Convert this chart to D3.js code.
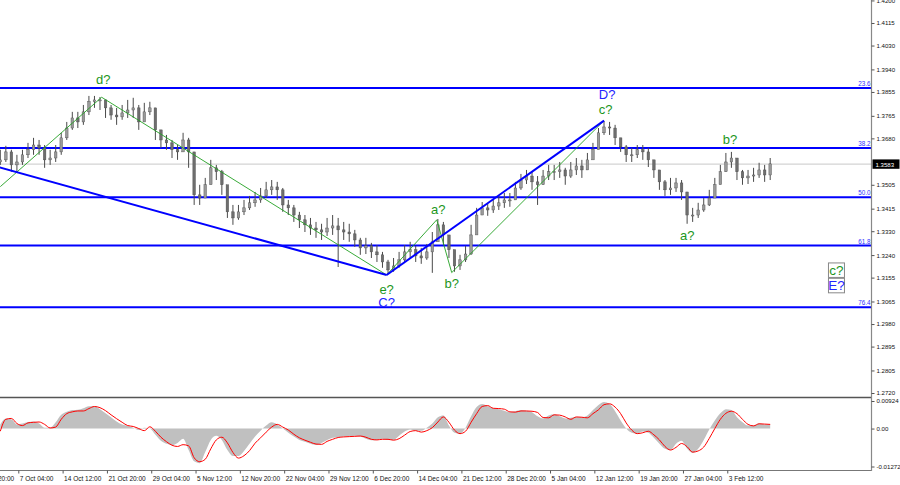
<!DOCTYPE html>
<html><head><meta charset="utf-8">
<script src="https://cdn.jsdelivr.net/npm/d3@7"></script>
<style>
html,body{margin:0;padding:0;background:#fff;overflow:hidden}
svg{display:block}
text{font-family:"Liberation Sans",Arial,sans-serif}
</style></head><body>
<svg id="c" width="900" height="485"></svg>
<script>
// ---- price data (4 x H4 bars aggregated per candle) ----
const firstOpen = 1.3591;
const closes = [1.3599,1.3629,1.3580,1.3591,1.3618,1.3637,1.3655,1.3644,1.3599,1.3606,
1.3629,1.3682,1.3719,1.3757,1.3742,1.3780,1.3818,1.3825,1.3825,1.3795,
1.3768,1.3761,1.3776,1.3787,1.3795,1.3742,1.3780,1.3795,1.3712,1.3674,
1.3663,1.3637,1.3629,1.3674,1.3629,1.3467,1.3455,1.3505,1.3569,1.3554,
1.3505,1.3403,1.3380,1.3403,1.3418,1.3437,1.3448,1.3463,1.3486,1.3497,
1.3486,1.3429,1.3418,1.3391,1.3373,1.3354,1.3342,1.3335,1.3327,1.3342,
1.3350,1.3335,1.3327,1.3320,1.3297,1.3267,1.3275,1.3252,1.3241,1.3214,
1.3184,1.3199,1.3222,1.3252,1.3260,1.3237,1.3229,1.3252,1.3290,1.3354,
1.3316,1.3260,1.3199,1.3222,1.3244,1.3316,1.3391,1.3418,1.3410,1.3425,
1.3437,1.3448,1.3448,1.3493,1.3523,1.3538,1.3516,1.3505,1.3538,1.3554,
1.3554,1.3561,1.3538,1.3561,1.3576,1.3561,1.3599,1.3637,1.3701,1.3723,
1.3719,1.3682,1.3648,1.3618,1.3618,1.3637,1.3629,1.3599,1.3561,1.3516,
1.3486,1.3493,1.3512,1.3478,1.3391,1.3391,1.3410,1.3429,1.3455,1.3505,
1.3554,1.3591,1.3606,1.3554,1.3531,1.3538,1.3542,1.3561,1.3542,1.3584];
const highs = [1.3637,1.3652,1.3637,1.3618,1.3637,1.3663,1.3682,1.3674,1.3655,1.3637,
1.3655,1.3701,1.3742,1.3780,1.3780,1.3806,1.3840,1.3840,1.3836,1.3825,
1.3806,1.3795,1.3806,1.3825,1.3833,1.3806,1.3814,1.3818,1.3795,1.3712,
1.3693,1.3674,1.3655,1.3701,1.3682,1.3599,1.3505,1.3531,1.3599,1.3580,
1.3561,1.3486,1.3429,1.3429,1.3448,1.3463,1.3478,1.3493,1.3516,1.3523,
1.3516,1.3493,1.3448,1.3429,1.3403,1.3391,1.3380,1.3365,1.3358,1.3380,
1.3391,1.3380,1.3365,1.3358,1.3335,1.3305,1.3305,1.3286,1.3278,1.3252,
1.3222,1.3229,1.3252,1.3278,1.3290,1.3275,1.3267,1.3282,1.3327,1.3376,
1.3365,1.3305,1.3260,1.3241,1.3275,1.3354,1.3418,1.3440,1.3437,1.3448,
1.3463,1.3474,1.3474,1.3516,1.3546,1.3561,1.3554,1.3538,1.3561,1.3580,
1.3580,1.3591,1.3569,1.3591,1.3606,1.3599,1.3625,1.3663,1.3719,1.3746,
1.3742,1.3731,1.3682,1.3655,1.3644,1.3655,1.3655,1.3644,1.3599,1.3554,
1.3523,1.3531,1.3531,1.3523,1.3467,1.3418,1.3437,1.3455,1.3486,1.3531,
1.3580,1.3625,1.3629,1.3599,1.3561,1.3561,1.3569,1.3588,1.3580,1.3606];
const lows = [1.3580,1.3591,1.3554,1.3554,1.3580,1.3606,1.3618,1.3618,1.3569,1.3580,
1.3591,1.3618,1.3674,1.3712,1.3719,1.3731,1.3768,1.3795,1.3787,1.3757,
1.3750,1.3731,1.3750,1.3757,1.3757,1.3712,1.3750,1.3768,1.3674,1.3644,
1.3637,1.3606,1.3599,1.3637,1.3569,1.3429,1.3429,1.3467,1.3523,1.3523,
1.3467,1.3380,1.3354,1.3373,1.3391,1.3410,1.3422,1.3437,1.3455,1.3467,
1.3448,1.3403,1.3391,1.3365,1.3342,1.3327,1.3316,1.3305,1.3297,1.3312,
1.3316,1.3195,1.3297,1.3290,1.3271,1.3241,1.3244,1.3229,1.3214,1.3192,
1.3169,1.3177,1.3192,1.3214,1.3229,1.3214,1.3207,1.3222,1.3173,1.3297,
1.3278,1.3229,1.3177,1.3184,1.3214,1.3241,1.3335,1.3391,1.3388,1.3399,
1.3410,1.3418,1.3422,1.3448,1.3486,1.3508,1.3486,1.3429,1.3505,1.3523,
1.3523,1.3531,1.3505,1.3531,1.3542,1.3531,1.3561,1.3606,1.3655,1.3693,
1.3693,1.3655,1.3629,1.3591,1.3591,1.3606,1.3599,1.3572,1.3531,1.3486,
1.3463,1.3467,1.3478,1.3448,1.3358,1.3365,1.3380,1.3403,1.3425,1.3467,
1.3516,1.3554,1.3569,1.3523,1.3505,1.3508,1.3516,1.3531,1.3516,1.3523];

// ---- MACD ----
const macdHist = [0.0014,0.0034,0.0031,0.0014,0.0017,0.0022,0.0024,0.0017,0.0003,0.0003,
0.0021,0.0046,0.0056,0.0062,0.0063,0.0068,0.0075,0.0075,0.0065,0.0051,
0.0038,0.0024,0.0014,0.0009,0.0003,-0.0005,0.0003,0.0000,-0.0021,-0.0041,
-0.0051,-0.0055,-0.0048,-0.0034,-0.0072,-0.0110,-0.0116,-0.0079,-0.0038,-0.0024,
-0.0038,-0.0072,-0.0092,-0.0092,-0.0075,-0.0051,-0.0027,-0.0007,0.0010,0.0021,
0.0014,0.0000,-0.0014,-0.0027,-0.0038,-0.0044,-0.0051,-0.0055,-0.0048,-0.0038,
-0.0031,-0.0029,-0.0027,-0.0026,-0.0024,-0.0027,-0.0034,-0.0039,-0.0038,-0.0034,
-0.0038,-0.0038,-0.0024,-0.0010,-0.0003,-0.0007,-0.0007,0.0003,0.0017,0.0038,
0.0044,0.0010,-0.0014,-0.0017,0.0003,0.0041,0.0072,0.0082,0.0075,0.0068,
0.0065,0.0060,0.0055,0.0058,0.0062,0.0060,0.0055,0.0041,0.0034,0.0044,
0.0048,0.0041,0.0034,0.0036,0.0039,0.0038,0.0044,0.0062,0.0079,0.0089,
0.0082,0.0058,0.0027,0.0000,-0.0014,-0.0017,-0.0010,-0.0014,-0.0031,-0.0051,
-0.0068,-0.0072,-0.0051,-0.0041,-0.0068,-0.0082,-0.0068,-0.0038,-0.0003,0.0027,
0.0051,0.0065,0.0062,0.0038,0.0021,0.0010,0.0010,0.0017,0.0014,0.0014];
const macdSignal = [-0.0009,0.0031,0.0034,0.0017,0.0010,0.0019,0.0021,0.0022,0.0014,0.0002,
0.0005,0.0031,0.0050,0.0056,0.0059,0.0059,0.0067,0.0074,0.0070,0.0060,
0.0046,0.0033,0.0021,0.0010,0.0007,0.0000,-0.0007,0.0006,-0.0009,-0.0029,
-0.0044,-0.0056,-0.0060,-0.0054,-0.0058,-0.0098,-0.0111,-0.0103,-0.0068,-0.0038,
-0.0029,-0.0048,-0.0080,-0.0099,-0.0091,-0.0074,-0.0049,-0.0031,-0.0012,0.0005,
0.0014,0.0005,-0.0005,-0.0019,-0.0031,-0.0039,-0.0046,-0.0052,-0.0053,-0.0043,
-0.0036,-0.0030,-0.0028,-0.0027,-0.0026,-0.0025,-0.0029,-0.0036,-0.0038,-0.0036,
-0.0036,-0.0039,-0.0034,-0.0022,-0.0010,-0.0007,-0.0012,-0.0007,0.0003,0.0022,
0.0039,0.0021,-0.0005,-0.0017,-0.0009,0.0021,0.0050,0.0074,0.0077,0.0068,
0.0067,0.0065,0.0056,0.0055,0.0059,0.0059,0.0058,0.0054,0.0037,0.0036,
0.0046,0.0045,0.0039,0.0031,0.0039,0.0038,0.0036,0.0050,0.0063,0.0080,
0.0083,0.0072,0.0050,0.0019,-0.0005,-0.0017,-0.0014,-0.0009,-0.0021,-0.0038,
-0.0060,-0.0072,-0.0063,-0.0050,-0.0061,-0.0079,-0.0075,-0.0062,-0.0033,0.0000,
0.0031,0.0051,0.0058,0.0050,0.0031,0.0014,0.0009,0.0016,0.0015,0.0014];

// ---- axes ----
const priceTicks = [1.4200,1.4115,1.4030,1.3940,1.3855,1.3765,1.3680,1.3505,1.3415,1.3330,1.3240,1.3155,1.3065,1.2980,1.2895,1.2805,1.2720];
const macdTicks = [0.00924, 0.00, -0.01272];
const macdTickLabels = ["0.00924","0.00","-0.01272"];
const dateLabels = ["30 Sep 20:00","7 Oct 04:00","14 Oct 12:00","21 Oct 20:00","29 Oct 04:00","5 Nov 12:00","12 Nov 20:00","22 Nov 04:00","29 Nov 12:00","6 Dec 20:00","14 Dec 04:00","21 Dec 12:00","28 Dec 20:00","5 Jan 04:00","12 Jan 12:00","19 Jan 20:00","27 Jan 04:00","3 Feb 12:00"];
const dateBars = [-19,13,45,77,109,141,173,205,237,269,301,333,365,397,429,461,493,525];

// ---- annotations ----
const fibLevels = [1.3870,1.3644,1.3458,1.3276,1.3043];
const fibLabels = ["23.6","38.2","50.0","61.8","76.4"];
const currentPrice = 1.3583;
const blueWaves = [[[-1,1.3571],[279,1.3165]],[[279,1.3165],[436,1.3747]]];
const greenWaves = [[[0,1.3498],[73.2,1.3835]],[[73.2,1.3835],[279,1.3165]],[[279,1.3165],[315.2,1.3373]],[[315.2,1.3373],[326,1.3174]],[[326,1.3174],[436,1.3747]]];
const waveTexts = ["d?","e?","C?","a?","b?","D?","c?","b?","a?"];
const waveTextBars = [74.4,279,279,316.3,326,438.2,437.2,527,496.1];
const waveTextPrices = [1.3903,1.3111,1.3061,1.3413,1.3131,1.3844,1.3790,1.3677,1.3312];
const waveTextKinds = ["g","g","b","g","g","b","g","g","g"];
const boxTexts = ["c?","E?"];
const boxBars = [603.5,603.5];
const boxPrices = [1.3184,1.3126];
const boxKinds = ["g","b"];

const GREEN="#1c961c", BLUE="#2424ff";
const AXF = 6.1;
const svg = d3.select("#c");
const axisX = 871.5;
const x = d3.scaleLinear().domain([0,650]).range([0.3, 0.3+1.3847*650]);
const y = d3.scaleLinear().domain([1.27087,1.42017]).range([396,0]);
const ym = d3.scaleLinear().domain([-0.01272,0.00924]).range([466.5,401]);

const main = svg.append("g");
main.append("line").attr("x1",0).attr("x2",axisX).attr("y1",y(currentPrice)).attr("y2",y(currentPrice))
  .attr("stroke","#c8c8c8").attr("stroke-width",1);
fibLevels.forEach((f,k)=>{
  main.append("line").attr("x1",0).attr("x2",axisX).attr("y1",y(f)).attr("y2",y(f))
    .attr("stroke","#0000ff").attr("stroke-width",2);
  main.append("text").attr("x",axisX-1).attr("y",y(f)-2).attr("text-anchor","end")
    .attr("font-size",6.3).attr("fill","#3030ff").text(fibLabels[k]);
});
// candles
const bars = closes.map((c,i)=>({h:4*i, o: i===0?firstOpen:closes[i-1], c, hi:highs[i], lo:lows[i]}));
const cg = main.append("g");
cg.selectAll("line.w").data(bars).join("line").attr("class","w")
  .attr("x1",d=>x(d.h)).attr("x2",d=>x(d.h)).attr("y1",d=>y(d.hi)).attr("y2",d=>y(d.lo))
  .attr("stroke","#4a4a4a").attr("stroke-width",1);
cg.selectAll("rect").data(bars).join("rect")
  .attr("x",d=>x(d.h)-1.3).attr("width",2.6)
  .attr("y",d=>y(Math.max(d.o,d.c))).attr("height",d=>Math.max(1,Math.abs(y(d.o)-y(d.c))))
  .attr("fill",d=>d.c>=d.o?"#9a9a9a":"#6e6e6e").attr("stroke","#4a4a4a").attr("stroke-width",0.4);
// wave lines
const lineGen = d3.line().x(d=>x(d[0])).y(d=>y(d[1]));
greenWaves.forEach(s=>main.append("path").attr("d",lineGen(s)).attr("fill","none").attr("stroke","#22a022").attr("stroke-width",0.9));
blueWaves.forEach(s=>main.append("path").attr("d",lineGen(s)).attr("fill","none").attr("stroke","#0000ff").attr("stroke-width",2));
waveTexts.forEach((t,k)=>{
  main.append("text").attr("x",x(waveTextBars[k])).attr("y",y(waveTextPrices[k]))
    .attr("text-anchor","middle").attr("dominant-baseline","central")
    .attr("font-size",13).attr("fill",waveTextKinds[k]==="g"?GREEN:BLUE).text(t);
});
boxTexts.forEach((t,k)=>{
  const cx=x(boxBars[k]), cy=y(boxPrices[k]);
  main.append("rect").attr("x",cx-7.5).attr("y",cy-7).attr("width",16).attr("height",14.5)
    .attr("fill","#fff").attr("stroke","#888").attr("stroke-width",1);
  main.append("text").attr("x",cx+0.5).attr("y",cy+0.5).attr("text-anchor","middle").attr("dominant-baseline","central")
    .attr("font-size",13.5).attr("fill",boxKinds[k]==="g"?GREEN:BLUE).text(t);
});

// ---- MACD pane ----
const mp = svg.append("g");
mp.append("path").attr("d",d3.area().x((d,i)=>x(4*i)).y0(ym(0)).y1(d=>ym(d)).curve(d3.curveMonotoneX)(macdHist))
  .attr("fill","#c0c0c0");
mp.append("path").attr("d",d3.line().x((d,i)=>x(4*i)).y(d=>ym(d)).curve(d3.curveMonotoneX)(macdSignal))
  .attr("fill","none").attr("stroke","#ff0000").attr("stroke-width",1);

// frame lines
svg.append("line").attr("x1",0).attr("x2",axisX).attr("y1",397.5).attr("y2",397.5).attr("stroke","#555").attr("stroke-width",1.6);
svg.append("line").attr("x1",0).attr("x2",axisX).attr("y1",470.5).attr("y2",470.5).attr("stroke","#777").attr("stroke-width",1);
svg.append("line").attr("x1",axisX).attr("x2",axisX).attr("y1",0).attr("y2",471).attr("stroke","#888").attr("stroke-width",1.2);

// right price axis
const ra = svg.append("g").attr("transform",`translate(${axisX},0)`)
  .call(d3.axisRight(y).tickValues(priceTicks).tickFormat(d3.format(".4f")).tickSize(3).tickPadding(2));
ra.select(".domain").remove();
ra.selectAll("line").attr("stroke","#555");
ra.selectAll("text").attr("font-size",AXF).attr("fill","#111").attr("font-family","Liberation Sans, Arial");
svg.append("rect").attr("x",axisX+1).attr("y",y(currentPrice)-4.7).attr("width",27).attr("height",9.4).attr("fill","#000");
svg.append("text").attr("x",axisX+4).attr("y",y(currentPrice)).attr("dominant-baseline","central")
  .attr("font-size",AXF).attr("fill","#fff").text(d3.format(".4f")(currentPrice));

// MACD axis
const ma = svg.append("g").attr("transform",`translate(${axisX},0)`)
  .call(d3.axisRight(ym).tickValues(macdTicks).tickFormat((d,i)=>macdTickLabels[i]).tickSize(3).tickPadding(2));
ma.select(".domain").remove();
ma.selectAll("line").attr("stroke","#555");
ma.selectAll("text").attr("font-size",AXF).attr("fill","#111").attr("font-family","Liberation Sans, Arial");

// bottom date axis
const ba = svg.append("g").attr("transform","translate(0,470.5)")
  .call(d3.axisBottom(x).tickValues(dateBars).tickFormat((d,i)=>dateLabels[i]).tickSize(3).tickPadding(3));
ba.select(".domain").remove();
ba.selectAll("line").attr("stroke","#555");
ba.selectAll("text").attr("text-anchor","start").attr("dx","1").attr("font-size",6.5).attr("fill","#111")
  .attr("font-family","Liberation Sans, Arial");
</script>
</body></html>
